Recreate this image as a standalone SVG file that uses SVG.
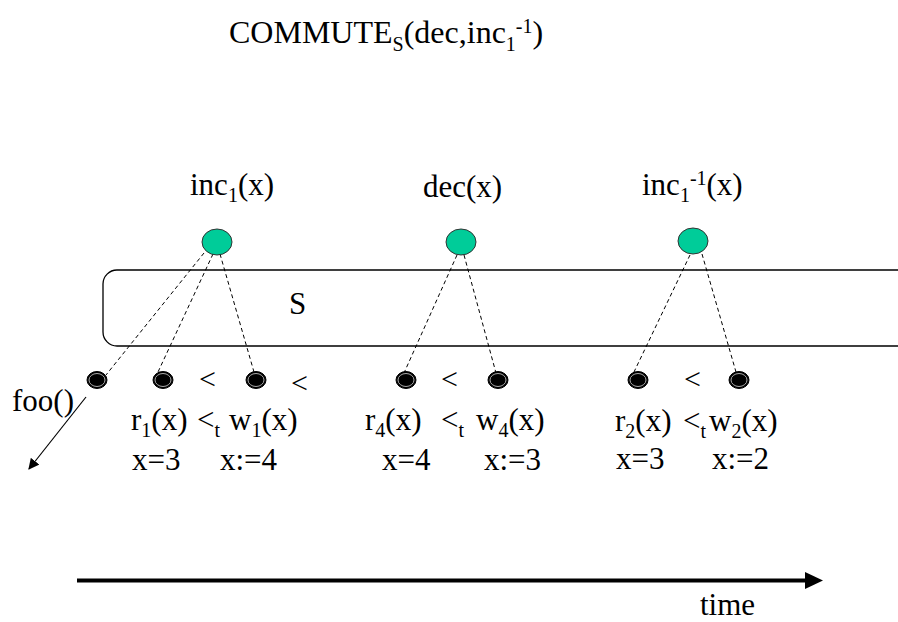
<svg xmlns="http://www.w3.org/2000/svg" width="898" height="622" viewBox="0 0 898 622">
<style>
text{font-family:"Liberation Serif","Times New Roman",serif;fill:#000}
.t{font-size:30px}
.b{font-size:31px}
.title{font-size:32px}
.sub{font-size:20px}
.green{fill:#00cc99;stroke:#333;stroke-width:1}
.dot{fill:#000;stroke:#000;stroke-width:1}
.ring{fill:none;stroke:#aaa;stroke-width:1}
.dash{stroke:#000;stroke-width:1;stroke-dasharray:4 3;fill:none}
</style>
<defs>
<marker id="ah" viewBox="0 0 10 10" refX="9" refY="5" markerWidth="11" markerHeight="11" markerUnits="userSpaceOnUse" orient="auto">
<path d="M0,0 L10,5 L0,10 z" fill="#000"/>
</marker>
</defs>
<rect x="0" y="0" width="898" height="622" fill="#fff"/>

<text class="title" x="229" y="43">COMMUTE<tspan class="sub" dy="8">S</tspan><tspan dy="-8">(dec,inc</tspan><tspan class="sub" dy="8">1</tspan><tspan class="sub" dy="-18">-1</tspan><tspan dy="10">)</tspan></text>

<g id="S-box">
<rect x="103" y="270" width="810" height="76" rx="14" ry="14" fill="none" stroke="#000" stroke-width="1.3"/>
<text class="b" x="289" y="314">S</text>
</g>

<g id="connectors">
<line class="dash" x1="204" y1="253" x2="106" y2="375"/>
<line class="dash" x1="213" y1="254" x2="158" y2="372"/>
<line class="dash" x1="220" y1="254" x2="254" y2="372"/>
<line class="dash" x1="457" y1="255" x2="404" y2="373"/>
<line class="dash" x1="464" y1="255" x2="496" y2="373"/>
<line class="dash" x1="690" y1="255" x2="634" y2="372"/>
<line class="dash" x1="702" y1="254" x2="736" y2="372"/>
<line x1="86" y1="397" x2="29" y2="469" stroke="#000" stroke-width="1.2" marker-end="url(#ah)"/>
<line x1="77" y1="580.5" x2="806" y2="580.5" stroke="#000" stroke-width="4"/>
<polygon points="805,572 823,580.5 805,589" fill="#000"/>
</g>

<g id="inc1">
<ellipse class="green" cx="217" cy="242" rx="15" ry="13"/>
<text class="b" x="190" y="195">inc<tspan class="sub" dy="7">1</tspan><tspan dy="-7">(x)</tspan></text>
</g>
<g id="dec">
<ellipse class="green" cx="461" cy="242" rx="15" ry="13"/>
<text class="b" x="423" y="197">dec(x)</text>
</g>
<g id="inc1inv">
<ellipse class="green" cx="693" cy="241" rx="15" ry="13"/>
<text class="b" x="642" y="195">inc<tspan class="sub" dy="7">1</tspan><tspan class="sub" dy="-17">-1</tspan><tspan dy="10">(x)</tspan></text>
</g>

<g id="foo">
<ellipse class="dot" cx="97" cy="380" rx="10" ry="8.5"/>
<ellipse class="ring" cx="97" cy="380" rx="8" ry="6.5"/>
<text class="b" x="12" y="411">foo()</text>
</g>
<g id="r1">
<ellipse class="dot" cx="163" cy="380" rx="10" ry="8.5"/>
<ellipse class="ring" cx="163" cy="380" rx="8" ry="6.5"/>
</g>
<g id="w1">
<ellipse class="dot" cx="256" cy="380" rx="10" ry="8.5"/>
<ellipse class="ring" cx="256" cy="380" rx="8" ry="6.5"/>
</g>
<g id="r4">
<ellipse class="dot" cx="406" cy="380" rx="10" ry="8.5"/>
<ellipse class="ring" cx="406" cy="380" rx="8" ry="6.5"/>
</g>
<g id="w4">
<ellipse class="dot" cx="498" cy="380" rx="10" ry="8.5"/>
<ellipse class="ring" cx="498" cy="380" rx="8" ry="6.5"/>
</g>
<g id="r2">
<ellipse class="dot" cx="638" cy="380" rx="10" ry="8.5"/>
<ellipse class="ring" cx="638" cy="380" rx="8" ry="6.5"/>
</g>
<g id="w2">
<ellipse class="dot" cx="739" cy="380" rx="10" ry="8.5"/>
<ellipse class="ring" cx="739" cy="380" rx="8" ry="6.5"/>
</g>

<g id="labels">
<text class="t" x="199" y="389">&lt;</text>
<text class="t" x="291" y="393">&lt;</text>
<text class="t" x="441" y="389">&lt;</text>
<text class="t" x="684" y="389">&lt;</text>

<text class="b" x="131" y="430">r<tspan class="sub" dy="7">1</tspan><tspan dy="-7">(x)</tspan></text>
<text class="b" x="197" y="430">&lt;<tspan class="sub" dy="7">t</tspan></text>
<text class="b" x="229" y="430">w<tspan class="sub" dy="7">1</tspan><tspan dy="-7">(x)</tspan></text>
<text class="b" x="132" y="470">x=3</text>
<text class="b" x="220" y="470">x:=4</text>

<text class="b" x="365" y="430">r<tspan class="sub" dy="7">4</tspan><tspan dy="-7">(x)</tspan></text>
<text class="b" x="441" y="430">&lt;<tspan class="sub" dy="7">t</tspan></text>
<text class="b" x="476" y="430">w<tspan class="sub" dy="7">4</tspan><tspan dy="-7">(x)</tspan></text>
<text class="b" x="382" y="470">x=4</text>
<text class="b" x="484" y="470">x:=3</text>

<text class="b" x="615" y="431">r<tspan class="sub" dy="7">2</tspan><tspan dy="-7">(x)</tspan></text>
<text class="b" x="683" y="431">&lt;<tspan class="sub" dy="7">t</tspan></text>
<text class="b" x="709" y="431">w<tspan class="sub" dy="7">2</tspan><tspan dy="-7">(x)</tspan></text>
<text class="b" x="616" y="469">x=3</text>
<text class="b" x="712" y="469">x:=2</text>

<text class="b" x="700" y="615">time</text>
</g>
</svg>
